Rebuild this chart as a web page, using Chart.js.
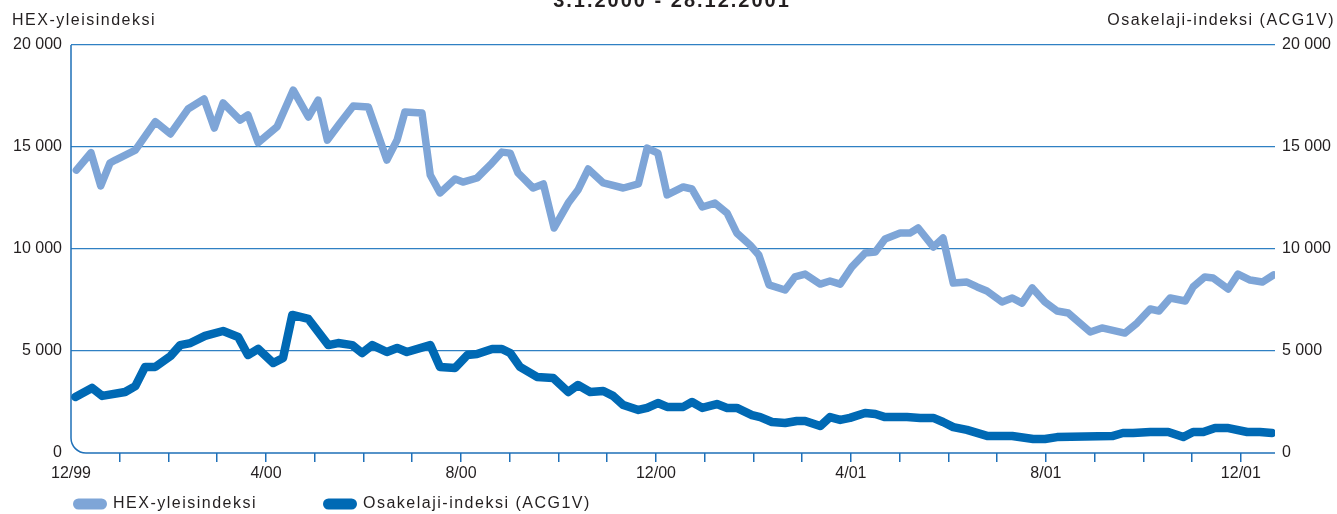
<!DOCTYPE html>
<html>
<head>
<meta charset="utf-8">
<script src="https://cdn.jsdelivr.net/npm/chart.js@4.4.1/dist/chart.umd.min.js"></script>
<style>
    html, body { margin: 0; padding: 0; background: #fff; overflow: hidden; }
    #wrap { width: 1337px; height: 514px; position: relative; }
</style>
</head>
<body>
<div id="wrap"><canvas id="chart"></canvas></div>
<script>
// chart texts
const titleText = '3.1.2000 - 28.12.2001';
const leftAxisTitle = 'HEX-yleisindeksi';
const rightAxisTitle = 'Osakelaji-indeksi (ACG1V)';
const seriesNames = ['HEX-yleisindeksi', 'Osakelaji-indeksi (ACG1V)'];

// month ticks, 0 = 12/99 ... 24 = 12/01, a label every fourth month
const monthLabels = ['12/99', '', '', '', '4/00', '', '', '', '8/00', '', '', '', '12/00',
    '', '', '', '4/01', '', '', '', '8/01', '', '', '', '12/01'];
const yTicks = [0, 5000, 10000, 15000, 20000];

// HEX-yleisindeksi: position in months after 12/99, index value
const hexMonth = [0.11, 0.41, 0.61, 0.80, 0.91, 1.32, 1.73, 2.04, 2.40, 2.73, 2.94, 3.12, 3.47, 3.63, 3.84,
    4.23, 4.56, 4.87, 5.07, 5.26, 5.52, 5.79, 6.10, 6.48, 6.69, 6.85, 7.20, 7.37, 7.57, 7.88,
    8.04, 8.33, 8.60, 8.84, 9.01, 9.17, 9.48, 9.69, 9.91, 10.20, 10.40, 10.61, 10.92, 11.33, 11.64,
    11.82, 12.04, 12.23, 12.56, 12.74, 12.95, 13.21, 13.46, 13.66, 13.93, 14.11, 14.32, 14.65, 14.85, 15.06,
    15.37, 15.57, 15.78, 16.02, 16.29, 16.50, 16.70, 17.01, 17.21, 17.38, 17.69, 17.89, 18.10, 18.38, 18.59,
    18.79, 19.10, 19.31, 19.51, 19.72, 19.98, 20.23, 20.46, 20.91, 21.15, 21.62, 21.87, 22.14, 22.32, 22.55,
    22.86, 23.02, 23.26, 23.43, 23.74, 23.94, 24.19, 24.44, 24.67];
const hexValue = [13870, 14720, 13090, 14215, 14360, 14850, 16240, 15640, 16860, 17350, 15930, 17160, 16320, 16570, 15210,
    16000, 17790, 16470, 17300, 15340, 16180, 17010, 16960, 14360, 15340, 16720, 16670, 13630, 12750, 13430,
    13280, 13480, 14120, 14750, 14700, 13730, 12990, 13190, 11030, 12250, 12890, 13920, 13240, 12990, 13190,
    14950, 14700, 12650, 13040, 12940, 12060, 12250, 11760, 10780, 10200, 9710, 8240, 7990, 8630, 8770,
    8280, 8430, 8280, 9120, 9800, 9850, 10490, 10780, 10780, 11030, 10100, 10540, 8330, 8380, 8140,
    7940, 7400, 7600, 7350, 8090, 7400, 6960, 6860, 5930, 6130, 5880, 6370, 7060, 6960, 7600,
    7450, 8140, 8630, 8580, 8040, 8770, 8480, 8380, 8730];

// Osakelaji-indeksi (ACG1V)
const acgMonth = [0.09, 0.43, 0.64, 1.11, 1.32, 1.52, 1.73, 2.04, 2.24, 2.45, 2.75, 3.12, 3.43, 3.63, 3.84,
    4.15, 4.35, 4.54, 4.87, 5.28, 5.48, 5.77, 5.97, 6.18, 6.48, 6.69, 6.89, 7.37, 7.57, 7.88,
    8.13, 8.33, 8.64, 8.84, 9.01, 9.21, 9.56, 9.89, 10.20, 10.40, 10.65, 10.92, 11.12, 11.33, 11.64,
    11.82, 12.04, 12.23, 12.56, 12.74, 12.95, 13.25, 13.46, 13.66, 13.97, 14.14, 14.38, 14.65, 14.89, 15.06,
    15.37, 15.57, 15.78, 15.98, 16.29, 16.50, 16.70, 17.15, 17.42, 17.69, 17.89, 18.10, 18.38, 18.81, 19.31,
    19.74, 19.98, 20.23, 21.36, 21.58, 21.79, 22.14, 22.51, 22.82, 23.02, 23.23, 23.47, 23.72, 24.13, 24.39,
    24.64];
const acgValue = [2750, 3190, 2800, 2990, 3280, 4220, 4220, 4750, 5290, 5390, 5740, 5980, 5690, 4800, 5100,
    4410, 4660, 6770, 6570, 5290, 5390, 5290, 4900, 5290, 4950, 5150, 4950, 5290, 4220, 4170,
    4800, 4850, 5100, 5100, 4900, 4220, 3730, 3680, 2990, 3330, 2990, 3040, 2800, 2350, 2110,
    2210, 2450, 2260, 2260, 2500, 2210, 2400, 2210, 2210, 1860, 1760, 1520, 1470, 1570, 1570,
    1320, 1760, 1620, 1720, 1960, 1910, 1760, 1760, 1720, 1720, 1520, 1270, 1130, 830, 830,
    690, 690, 780, 830, 980, 980, 1030, 1030, 780, 1030, 1030, 1230, 1230, 1030, 1030,
    980];

const gridColor = '#2f80c3';
const axisColor = '#1f70b8';
const textColor = '#231f20';
const font = '"Liberation Sans", Arial, sans-serif';

const toPoints = (xs, ys) => xs.map((x, i) => ({ x: x, y: ys[i] }));
const fmt = v => v === 0 ? '0' : String(v).replace(/\B(?=(\d{3})+(?!\d))/g, ' ');

const decor = {
    id: 'decor',
    beforeDatasetsDraw(chart) {
        const { ctx, chartArea: a } = chart;
        const r = 15;
        ctx.save();
        ctx.strokeStyle = axisColor;
        ctx.lineWidth = 1.5;
        ctx.beginPath();
        ctx.moveTo(a.left, a.top);
        ctx.lineTo(a.left, a.bottom - r);
        ctx.arcTo(a.left, a.bottom, a.left + r, a.bottom, r);
        ctx.lineTo(a.right, a.bottom);
        ctx.stroke();
        ctx.restore();
    },
    afterDraw(chart) {
        const ctx = chart.ctx;
        ctx.save();
        ctx.fillStyle = textColor;
        ctx.textBaseline = 'alphabetic';

        // title, mostly cut off by the top edge
        ctx.font = 'bold 20px ' + font;
        ctx.letterSpacing = '2px';
        ctx.textAlign = 'center';
        ctx.fillText(titleText, 672, 7);

        // axis titles
        ctx.font = '16px ' + font;
        ctx.letterSpacing = '1.5px';
        ctx.textAlign = 'left';
        ctx.fillText(leftAxisTitle, 12, 25);
        ctx.textAlign = 'right';
        ctx.fillText(rightAxisTitle, 1335, 25);

        // legend
        const items = [{ x: 73 }, { x: 323 }];
        ctx.textAlign = 'left';
        ctx.textBaseline = 'middle';
        chart.data.datasets.forEach((ds, i) => {
            const x = items[i].x, y = 504;
            ctx.fillStyle = ds.borderColor;
            ctx.beginPath();
            ctx.roundRect(x, y - 5.5, 34, 11, 5.5);
            ctx.fill();
            ctx.fillStyle = textColor;
            ctx.fillText(ds.label, x + 40, y);
        });
        ctx.restore();
    }
};

new Chart(document.getElementById('chart'), {
    type: 'line',
    data: {
        datasets: [{
            label: seriesNames[0],
            data: toPoints(hexMonth, hexValue),
            borderColor: '#7ea5d7',
            borderWidth: 7.5,
            pointRadius: 0,
            borderJoinStyle: 'round',
            borderCapStyle: 'round',
            tension: 0,
            yAxisID: 'y'
        }, {
            label: seriesNames[1],
            data: toPoints(acgMonth, acgValue),
            borderColor: '#0069b4',
            borderWidth: 8.5,
            pointRadius: 0,
            borderJoinStyle: 'round',
            borderCapStyle: 'round',
            tension: 0,
            yAxisID: 'y'
        }]
    },
    options: {
        responsive: true,
        maintainAspectRatio: false,
        animation: false,
        layout: { padding: { top: 45, left: 0, right: 0, bottom: 0 } },
        plugins: {
            legend: { display: false },
            tooltip: { enabled: false },
            title: { display: false }
        },
        scales: {
            x: {
                type: 'linear',
                min: 0,
                max: 24.7,
                afterBuildTicks: s => { s.ticks = monthLabels.map((_, i) => ({ value: i })); },
                afterFit: s => { s.height = 61; },
                border: { display: false },
                grid: {
                    drawOnChartArea: false,
                    drawTicks: true,
                    tickLength: 9,
                    lineWidth: 1.5,
                    color: c => c.index === 0 ? 'rgba(0,0,0,0)' : axisColor
                },
                ticks: {
                    autoSkip: false,
                    maxRotation: 0,
                    padding: 2,
                    color: textColor,
                    font: { family: font, size: 16 },
                    callback: v => monthLabels[v] || ''
                }
            },
            y: {
                position: 'left',
                min: 0,
                max: 20000,
                afterBuildTicks: s => { s.ticks = yTicks.map(v => ({ value: v })); },
                afterFit: s => { s.width = 71; },
                border: { display: false },
                grid: {
                    drawTicks: false,
                    lineWidth: 1.2,
                    color: c => c.tick.value === 0 ? 'rgba(0,0,0,0)' : gridColor
                },
                ticks: {
                    padding: 9,
                    color: textColor,
                    font: { family: font, size: 16 },
                    callback: v => fmt(v)
                }
            },
            y2: {
                position: 'right',
                min: 0,
                max: 20000,
                afterBuildTicks: s => { s.ticks = yTicks.map(v => ({ value: v })); },
                afterFit: s => { s.width = 62; },
                border: { display: false },
                grid: { drawOnChartArea: false, drawTicks: false },
                ticks: {
                    padding: 7,
                    color: textColor,
                    font: { family: font, size: 16 },
                    callback: v => fmt(v)
                }
            }
        }
    },
    plugins: [decor]
});
</script>
</body>
</html>
